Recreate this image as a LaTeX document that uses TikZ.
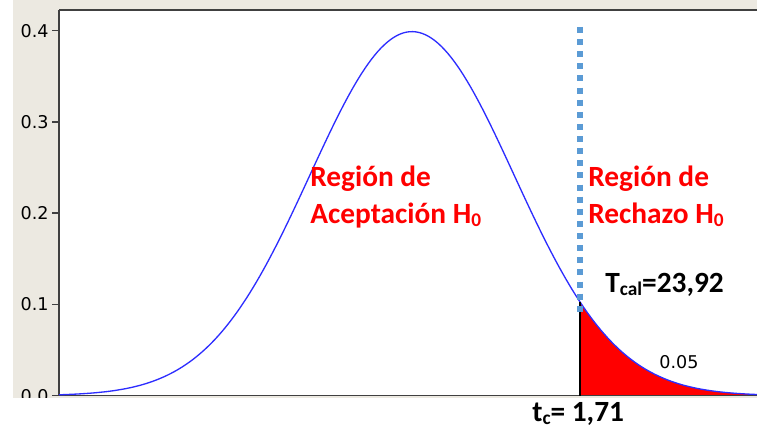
\documentclass[tikz,border=0pt]{standalone}
\usepackage{fontspec}
\setmainfont{Carlito}
\newfontfamily\tickfont{DejaVu Sans}
\definecolor{panel}{RGB}{236,233,225}
\definecolor{curveblue}{RGB}{45,45,255}
\definecolor{dotblue}{RGB}{91,155,213}
\definecolor{axisgray}{RGB}{64,64,64}
\newcommand{\lowtext}[1]{\raisebox{-1.6pt}{\fontsize{11}{12}\selectfont #1}}
\tikzset{
  region/.style={text=red,font=\bfseries\fontsize{16.7}{21}\selectfont,align=left,anchor=north west,inner sep=0pt},
  ticklabel/.style={font=\tickfont\fontsize{10}{11}\selectfont,anchor=east,inner sep=0pt},
  bigtext/.style={font=\bfseries\fontsize{16.7}{20}\selectfont,anchor=base west,inner sep=0pt},
}
\begin{document}
\begin{tikzpicture}[x=0.02cm,y=0.02cm]
        \useasboundingbox (0,0) rectangle (757,428);
        \fill[panel] (13,30) rectangle (757,428);
        \fill[white] (59,32.3) rectangle (757,418);

        % y axis ticks and labels
        \foreach \v/\lab in {0/0.0,1/0.1,2/0.2,3/0.3,4/0.4} {
            \draw[axisgray, line width=0.8pt] (52,32.3+91.25*\v) -- (59,32.3+91.25*\v);
            \node[ticklabel] (tick\v) at (49,32.3+91.25*\v) {\lab};
        }
        \fill[white] (0,0) rectangle (757,30);

        % rejection area
        \fill[red] (580,32.3) -- plot[domain=580:757, samples=80] (\x, {32.3+364*exp(-((\x-412)/102)^2/2)}) -- (757,32.3) -- cycle;

        % frame
        \draw[axisgray, line width=0.9pt] (59,418) -- (59,32.3) -- (757,32.3);
        \draw[axisgray, line width=1.3pt] (59,418) -- (757,418);

        % density curve
        \draw[curveblue, line width=0.75pt] plot[domain=59:757, samples=220] (\x, {32.3+364*exp(-((\x-412)/102)^2/2)});

        \coordinate (tcfoot) at (580,32.3);
        \coordinate (tchead) at (580,{32.3+364*exp(-((580-412)/102)^2/2)});
        \draw[black, line width=0.9pt] (tcfoot) -- (tchead);

        \coordinate (dothigh) at (580,401);
        \coordinate (dotlow) at (580,116);
        \draw[dotblue, line width=3.4pt, dash pattern=on 3.4pt off 3.5pt] (dothigh) -- (dotlow);

        \node[region] (accept) at (310,262) {Región de\\Aceptación H\lowtext{0}};
        \node[region] (reject) at (588,262) {Región de\\Rechazo H\lowtext{0}};
        \node[bigtext] (tcal) at (605,135) {T\lowtext{cal}=23,92};
        \node[bigtext] (tcrit) at (532,6) {t\lowtext{c}= 1,71};
        \node[font=\tickfont\fontsize{10}{11}\selectfont, inner sep=0pt] (alpha) at (679,66) {0.05};
    \end{tikzpicture}
\end{document}
